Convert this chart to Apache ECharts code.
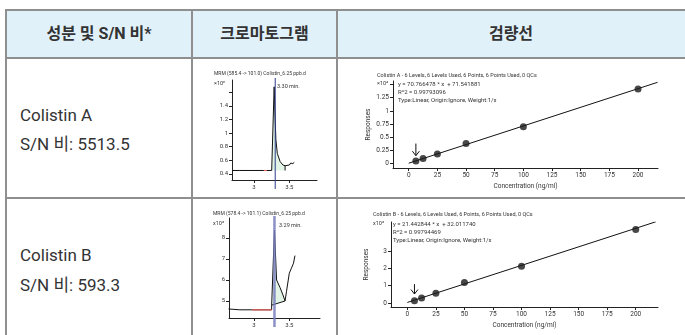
<!DOCTYPE html>
<html><head><meta charset="utf-8">
<script src="https://cdn.jsdelivr.net/npm/echarts@6/dist/echarts.min.js"></script>
<style>
html,body{margin:0;padding:0;background:#fff;width:685px;height:335px;overflow:hidden;font-family:Roboto,"Noto Sans CJK KR",sans-serif;}
#wrap{position:relative;width:685px;height:335px;}
.hdr{position:absolute;top:10px;height:47px;left:5px;right:0;background:#e1f1fa;}
.hl{position:absolute;background:#8f8f8f;}
.ht{position:absolute;top:10px;height:47px;line-height:47px;text-align:center;font-weight:bold;font-size:16px;color:#333;font-family:Roboto,"Noto Sans CJK KR",sans-serif;}
.ct{position:absolute;left:20px;font-size:17px;color:#333;line-height:20px;white-space:nowrap;font-family:Roboto,"Noto Sans CJK KR",sans-serif;}
#chart{position:absolute;left:0;top:0;width:685px;height:335px;}
</style></head>
<body>
<div id="wrap">
  <div class="hdr"></div>
  <div class="hl" style="left:5px;top:9px;width:680px;height:2px"></div>
  <div class="hl" style="left:5px;top:57px;width:680px;height:2px"></div>
  <div class="hl" style="left:5px;top:197px;width:680px;height:2px"></div>
  <div class="hl" style="left:5px;top:9px;width:2px;height:326px"></div>
  <div class="hl" style="left:191px;top:9px;width:2px;height:326px"></div>
  <div class="hl" style="left:336px;top:9px;width:2px;height:326px"></div>
  <div class="ht" style="left:6px;width:186px">성분 및 S/N 비*</div>
  <div class="ht" style="left:192px;width:145px">크로마토그램</div>
  <div class="ht" style="left:337px;width:348px">검량선</div>
  <div class="ct" style="top:105px">Colistin A</div>
  <div class="ct" style="top:134px">S/N 비: 5513.5</div>
  <div class="ct" style="top:245px">Colistin B</div>
  <div class="ct" style="top:275px">S/N 비: 593.3</div>
  <div id="chart"></div>
</div>
<script>
// ---- Chromatogram Colistin A (x10^2) ----
const chromA_t = [2.69, 2.80, 3.00, 3.14, 3.18, 3.25, 3.285, 3.30, 3.31, 3.33, 3.37, 3.41, 3.44, 3.46, 3.50, 3.52, 3.55, 3.57];
const chromA_v = [0.45, 0.45, 0.45, 0.45, 0.45, 0.45, 1.68, 1.19, 0.90, 0.70, 0.58, 0.53, 0.52, 0.52, 0.53, 0.56, 0.55, 0.57];
const chromA_red = [[3.14, 0.45], [3.18, 0.45]];
const chromA_fill = [[3.25, 0.45], [3.285, 1.68], [3.30, 1.19], [3.31, 0.90], [3.33, 0.70], [3.37, 0.58], [3.41, 0.53], [3.44, 0.52], [3.44, 0.45]];
const chromA_rt = 3.30;
const chromA_yTicks = [0.4, 0.6, 0.8, 1, 1.2, 1.4, 1.6];
const chromA_yLabels = [0.4, 0.6, 0.8, 1, 1.2, 1.4];

// ---- Chromatogram Colistin B (x10^3) ----
const chromB_t = [2.64, 2.80, 2.97, 3.25, 3.25, 3.26, 3.29, 3.32, 3.37, 3.41, 3.44, 3.46, 3.50, 3.53, 3.56, 3.58];
const chromB_v = [4.62, 4.58, 4.58, 4.58, 4.80, 4.84, 8.38, 6.00, 5.63, 5.29, 5.00, 5.44, 6.32, 6.56, 6.80, 7.16];
const chromB_red = [[2.97, 4.58], [3.25, 4.58]];
const chromB_fill = [[3.25, 4.80], [3.26, 4.84], [3.29, 8.38], [3.32, 6.00], [3.37, 5.63], [3.41, 5.29], [3.44, 5.00]];
const chromB_base = [[3.25, 4.80], [3.44, 5.00]];
const chromB_rt = 3.29;
const chromB_yTicks = [5, 6, 7, 8];

const chromXTicks = [3, 3.5];

// ---- Calibration curves ----
const conc = [6.25, 12.5, 25, 50, 100, 200];
const respA = [0.05, 0.095, 0.18, 0.38, 0.70, 1.415];   // x10^4
const respB = [0.13, 0.29, 0.57, 1.18, 2.12, 4.25];     // x10^3
const fitA = [[0, 0.007], [217, 1.543]];
const fitB = [[0, 0.032], [217.5, 4.69]];
const arrowA = [6.25, 0.38, 0.15];
const arrowB = [6.25, 1.09, 0.52];
const calXTicks = [0, 25, 50, 75, 100, 125, 150, 175, 200];
const calATicks = [0, 0.25, 0.5, 0.75, 1, 1.25, 1.5];
const calALabels = [0, 0.25, 0.5, 0.75, 1, 1.25];
const calBTicks = [0, 1, 2, 3];

const FF = 'Roboto, "Liberation Sans", sans-serif';
const AX = '#222';

function xAx(i, min, max, ticks, fs, name) {
  return {
    gridIndex: i, type: 'value', min: min, max: max,
    axisLine: { show: true, onZero: false, lineStyle: { color: AX, width: 1 } },
    axisTick: { show: true, customValues: ticks, length: 3, lineStyle: { color: AX } },
    axisLabel: { customValues: ticks, fontSize: fs, color: '#333', margin: 4, fontFamily: FF },
    splitLine: { show: false },
    name: name || '', nameLocation: 'middle', nameGap: 15,
    nameTextStyle: { fontSize: 6.5, color: '#333', fontFamily: FF }
  };
}
function yAx(i, min, max, ticks, labels, fs, name) {
  return {
    gridIndex: i, type: 'value', min: min, max: max,
    axisLine: { show: true, onZero: false, lineStyle: { color: AX, width: 1 } },
    axisTick: { show: true, customValues: ticks, length: 3, lineStyle: { color: AX } },
    axisLabel: { customValues: labels, fontSize: fs, color: '#333', margin: 4, fontFamily: FF },
    splitLine: { show: false },
    name: name || '', nameLocation: 'middle', nameGap: 21, nameRotate: 90,
    nameTextStyle: { fontSize: 6.5, color: '#333', fontFamily: FF }
  };
}
function pairs(xs, ys) { return xs.map((x, k) => [x, ys[k]]); }

function polyFill(idx, pts, color) {
  return {
    type: 'custom', xAxisIndex: idx, yAxisIndex: idx, data: [0], clip: false, z: 1,
    renderItem: function (params, api) {
      return { type: 'polygon', shape: { points: pts.map(p => api.coord(p)) }, style: { fill: color, stroke: 'none', lineWidth: 0 } };
    }
  };
}
function rtLine(idx, rt, ymax, color, w, below) {
  return {
    type: 'custom', xAxisIndex: idx, yAxisIndex: idx, data: [[rt, ymax]], clip: false, z: 4,
    renderItem: function (params, api) {
      const p = api.coord([api.value(0), api.value(1)]);
      const cs = params.coordSys;
      return { type: 'line', shape: { x1: p[0], y1: cs.y - 2, x2: p[0], y2: cs.y + cs.height + below }, style: { stroke: color, lineWidth: w } };
    }
  };
}
function arrow(idx, a) {
  return {
    type: 'custom', xAxisIndex: idx, yAxisIndex: idx, data: [a], clip: false, z: 6,
    renderItem: function (params, api) {
      const t = api.coord([api.value(0), api.value(1)]);
      const b = api.coord([api.value(0), api.value(2)]);
      return { type: 'group', children: [
        { type: 'line', shape: { x1: t[0], y1: t[1], x2: b[0], y2: b[1] }, style: { stroke: '#111', lineWidth: 1 } },
        { type: 'polyline', shape: { points: [[b[0] - 3.5, b[1] - 4.5], [b[0], b[1]], [b[0] + 3.5, b[1] - 4.5]] }, style: { stroke: '#111', lineWidth: 1, fill: null } }
      ] };
    }
  };
}
function txt(x, y, s, fs, color) {
  return { type: 'text', x: x, y: y, silent: true, style: { text: s, fontSize: fs, fontFamily: FF, fill: color || '#333', verticalAlign: 'middle', align: 'left' } };
}

const chart = echarts.init(document.getElementById('chart'), null, { renderer: 'canvas' });
chart.setOption({
  backgroundColor: 'transparent',
  animation: false,
  grid: [
    { left: 232, top: 80, width: 85, height: 100 },
    { left: 393, top: 81, width: 265, height: 87 },
    { left: 229, top: 218, width: 91, height: 100 },
    { left: 391, top: 222, width: 267, height: 85 }
  ],
  xAxis: [
    xAx(0, 2.688, 3.892, chromXTicks, 6),
    xAx(1, -13.7, 217.4, calXTicks, 6.5, 'Concentration (ng/ml)'),
    xAx(2, 2.646, 3.935, chromXTicks, 6),
    xAx(3, -14.3, 219.5, calXTicks, 6.5, 'Concentration (ng/ml)')
  ],
  yAxis: [
    yAx(0, 0.31, 1.78, chromA_yTicks, chromA_yLabels, 6),
    yAx(1, -0.084, 1.568, calATicks, calALabels, 6.5, 'Responses'),
    yAx(2, 4.19, 8.95, chromB_yTicks, chromB_yTicks, 6),
    yAx(3, -0.23, 4.68, calBTicks, calBTicks, 6.5, 'Responses')
  ],
  series: [
    // chromatogram A
    polyFill(0, chromA_fill, '#e2f4e5'),
    { type: 'line', xAxisIndex: 0, yAxisIndex: 0, data: pairs(chromA_t, chromA_v), showSymbol: false, z: 3,
      lineStyle: { color: '#111', width: 1 } },
    { type: 'line', xAxisIndex: 0, yAxisIndex: 0, data: [[3.44, 0.52], [3.44, 0.45]], showSymbol: false, z: 3,
      lineStyle: { color: '#111', width: 1 } },
    { type: 'line', xAxisIndex: 0, yAxisIndex: 0, data: chromA_red, showSymbol: false, z: 3,
      lineStyle: { color: '#e8605a', width: 1.2 } },
    rtLine(0, chromA_rt, 1.78, '#2d3a8c', 1, 9),
    // calibration A
    { type: 'line', xAxisIndex: 1, yAxisIndex: 1, data: fitA, showSymbol: false, z: 3,
      lineStyle: { color: '#111', width: 1 } },
    { type: 'scatter', xAxisIndex: 1, yAxisIndex: 1, data: pairs(conc, respA), symbol: 'circle', symbolSize: 7, z: 5,
      itemStyle: { color: '#1a1a1a' } },
    arrow(1, arrowA),
    // chromatogram B
    polyFill(2, chromB_fill, '#e2f4e5'),
    { type: 'line', xAxisIndex: 2, yAxisIndex: 2, data: pairs(chromB_t, chromB_v), showSymbol: false, z: 3,
      lineStyle: { color: '#111', width: 1 } },
    { type: 'line', xAxisIndex: 2, yAxisIndex: 2, data: chromB_base, showSymbol: false, z: 3,
      lineStyle: { color: '#111', width: 1 } },
    { type: 'line', xAxisIndex: 2, yAxisIndex: 2, data: chromB_red, showSymbol: false, z: 3,
      lineStyle: { color: '#e8605a', width: 1.2 } },
    rtLine(2, chromB_rt, 8.95, 'rgba(120,126,190,0.85)', 2.5, 9),
    // calibration B
    { type: 'line', xAxisIndex: 3, yAxisIndex: 3, data: fitB, showSymbol: false, z: 3,
      lineStyle: { color: '#111', width: 1 } },
    { type: 'scatter', xAxisIndex: 3, yAxisIndex: 3, data: pairs(conc, respB), symbol: 'circle', symbolSize: 7, z: 5,
      itemStyle: { color: '#1a1a1a' } },
    arrow(3, arrowB)
  ],
  graphic: [
    txt(214, 74, 'MRM (585.4 -> 101.0) Colistin_6.25 ppb.d', 5),
    txt(214, 84, '×10²', 5.5),
    txt(277, 87, '3.30 min.', 5.5),
    txt(213, 214, 'MRM (578.4 -> 101.1) Colistin_6.25 ppb.d', 5),
    txt(213, 224, 'x10³', 5.5),
    txt(279, 226, '3.29 min.', 5.5),
    txt(377, 76, 'Colistin A - 6 Levels, 6 Levels Used, 6 Points, 6 Points Used, 0 QCs', 5.5),
    txt(377, 84, '×10⁴', 5.5),
    txt(398, 84, 'y = 70.766478 * x  + 71.541881', 6),
    txt(398, 92.3, 'R^2 = 0.99793096', 6),
    txt(398, 100.7, 'Type:Linear, Origin:Ignore, Weight:1/x', 6),
    txt(373, 215, 'Colistin B - 6 Levels, 6 Levels Used, 6 Points, 6 Points Used, 0 QCs', 5.5),
    txt(373, 224, 'x10³', 5.5),
    txt(393, 224, 'y = 21.442844 * x  + 32.011740', 6),
    txt(393, 232.3, 'R^2 = 0.99794469', 6),
    txt(393, 240.7, 'Type:Linear, Origin:Ignore, Weight:1/x', 6)
  ]
});
</script>
</body></html>
